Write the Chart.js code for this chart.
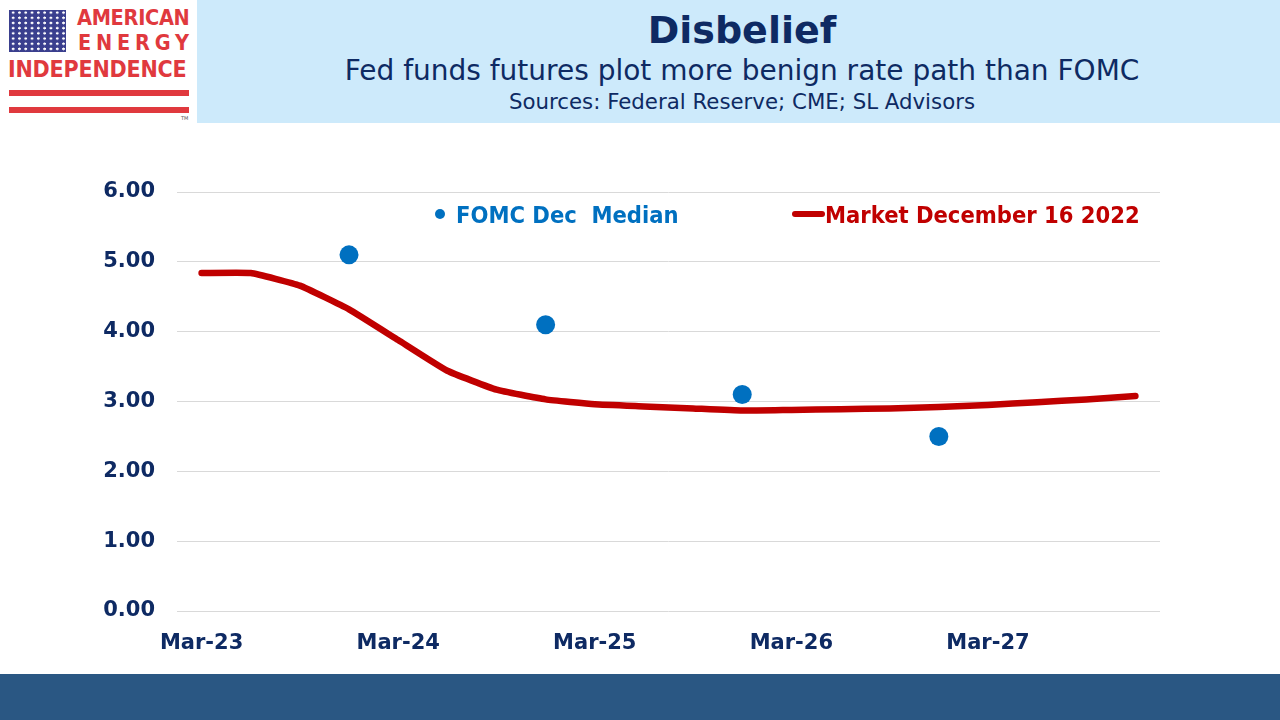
<!DOCTYPE html>
<html>
<head>
<meta charset="utf-8">
<script src="https://cdn.jsdelivr.net/npm/chart.js@4.4.0/dist/chart.umd.min.js"></script>
<style>
  html,body{margin:0;padding:0;width:1280px;height:720px;overflow:hidden;background:#fff;font-family:"DejaVu Sans",sans-serif;}
  #band{position:absolute;left:197px;top:0;width:1083px;height:123px;background:#CDEAFB;}
  #title{position:absolute;left:197px;width:1090px;top:8px;text-align:center;font-weight:bold;font-size:38px;color:#0E2A63;}
  #sub{position:absolute;left:197px;width:1090px;top:54px;text-align:center;font-size:28px;color:#0E2A63;}
  #src{position:absolute;left:197px;width:1090px;top:89px;text-align:center;font-size:21.3px;color:#0E2A63;}
  #bottom{position:absolute;left:0;top:674px;width:1280px;height:46px;background:#2A5783;}
  #logo{position:absolute;left:0;top:0;width:197px;height:123px;background:#fff;}
  .flag{position:absolute;left:9px;top:10px;width:57px;height:42px;background-color:#3A3F8E;
        background-image:radial-gradient(circle,#fff 1.1px,transparent 1.5px);background-size:6.3px 5.2px;background-position:1px 0;}
  .lt{position:absolute;color:#E0393E;font-weight:bold;font-family:"DejaVu Sans Condensed","DejaVu Sans",sans-serif;white-space:nowrap;}
  .bar{position:absolute;left:9px;width:180px;height:6px;background:#E0393E;}
  #chartwrap{position:absolute;left:0;top:130px;width:1280px;height:540px;}
  .leg{position:absolute;font-weight:bold;font-size:23.5px;white-space:nowrap;font-family:"DejaVu Sans Condensed","DejaVu Sans",sans-serif;}
</style>
</head>
<body>
<div id="band"></div>
<div id="logo">
  <div class="flag"></div>
  <div class="lt" style="left:77px;top:5px;font-size:21.5px;letter-spacing:-0.3px;">AMERICAN</div>
  <div class="lt" style="left:78px;top:30px;font-size:21.5px;letter-spacing:4.8px;">ENERGY</div>
  <div class="lt" style="left:8px;top:56px;font-size:23px;letter-spacing:-0.2px;">INDEPENDENCE</div>
  <div class="bar" style="top:90px;"></div>
  <div class="bar" style="top:107px;"></div>
  <div style="position:absolute;left:181px;top:115px;font-size:5px;color:#555;">TM</div>
</div>
<div id="title">Disbelief</div>
<div id="sub">Fed funds futures plot more benign rate path than FOMC</div>
<div id="src">Sources: Federal Reserve; CME; SL Advisors</div>

<div id="chartwrap"><canvas id="c" width="1280" height="540"></canvas></div>

<div class="leg" style="left:435px;top:201px;color:#0070C0;"><span style="display:inline-block;width:10px;height:10px;border-radius:50%;background:#0070C0;vertical-align:middle;margin-right:11px;position:relative;top:-3px;"></span>FOMC Dec&nbsp; Median</div>
<div class="leg" style="left:792px;top:201px;color:#C00000;"><span style="display:inline-block;width:33px;height:6px;border-radius:3px;background:#C00000;vertical-align:middle;position:relative;top:-3px;"></span>Market December 16 2022</div>

<div id="bottom"></div>

<script>
const quarters = ["Mar-23","Jun-23","Sep-23","Dec-23","Mar-24","Jun-24","Sep-24","Dec-24",
                  "Mar-25","Jun-25","Sep-25","Dec-25","Mar-26","Jun-26","Sep-26","Dec-26",
                  "Mar-27","Jun-27","Sep-27","Dec-27"];
const marketDec16 = [4.84,4.84,4.66,4.32,3.88,3.44,3.17,3.03,2.96,2.93,2.90,2.87,2.88,2.89,2.90,2.92,2.95,2.99,3.03,3.08];
const fomcMedian = [null,null,null,5.1,null,null,null,4.1,null,null,null,3.1,null,null,null,2.5,null,null,null,null];
const yTicks = [0,1,2,3,4,5,6];

const navy = "#0E2A63";
new Chart(document.getElementById("c"), {
  type: "line",
  data: {
    labels: quarters,
    datasets: [
      {label:"FOMC Dec  Median", data: fomcMedian, showLine:false, pointRadius:9.5, pointHoverRadius:9.5,
       backgroundColor:"#0070C0", borderColor:"#0070C0", pointBorderWidth:0, order:1},
      {label:"Market December 16 2022", data: marketDec16, borderColor:"#C00000", borderWidth:6.5,
       pointRadius:0, tension:0.12, borderCapStyle:"round", borderJoinStyle:"round", fill:false, order:2}
    ]
  },
  options: {
    responsive:false, animation:false, devicePixelRatio:1,
    layout:{padding:{top:62,right:120,left:0,bottom:0}},
    plugins:{legend:{display:false}, tooltip:{enabled:false}},
    scales:{
      x:{
        offset:true,
        grid:{display:false, drawTicks:false},
        border:{display:false},
        ticks:{autoSkip:false, maxRotation:0, padding:20, color:navy,
               font:{family:"DejaVu Sans", weight:"bold", size:21},
               callback:(v,i)=> (i%4===0 ? quarters[i] : null)},
        afterFit:(s)=>{s.height=59;}
      },
      y:{
        min:0, max:6,
        afterBuildTicks:(s)=>{s.ticks = yTicks.map(v=>({value:v}));},
        grid:{color:"#D9D9D9", lineWidth:1, drawTicks:false},
        border:{display:false},
        ticks:{padding:22, color:navy, font:{family:"DejaVu Sans", weight:"bold", size:21},
               callback:(v)=>Number(v).toFixed(2)},
        afterFit:(s)=>{s.width=177;}
      }
    }
  }
});
</script>
</body>
</html>
